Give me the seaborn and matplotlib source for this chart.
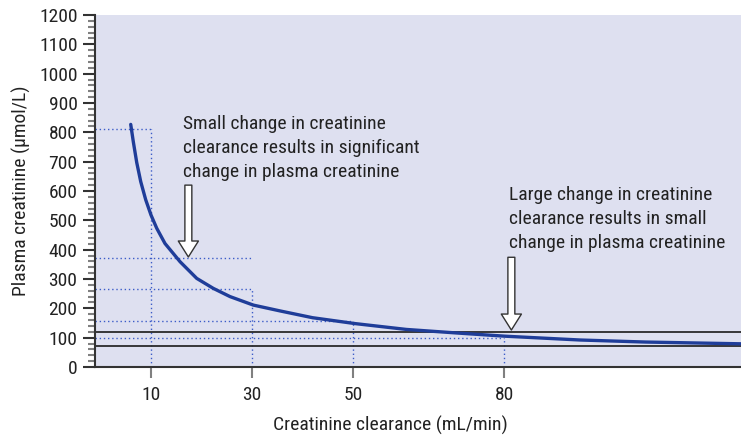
import numpy as np
import pandas as pd
import matplotlib
matplotlib.use("Agg")
import matplotlib.pyplot as plt
from matplotlib import font_manager
import seaborn as sns

# curve: creatinine clearance vs plasma creatinine
clearance = [5.98, 6.49, 7.17, 7.96, 8.95, 10.0, 11.13, 12.77, 15.75, 19.06,
             22.34, 25.65, 30.27, 35.6, 42.0, 50.4, 60.6, 70.5, 80.1, 95.0,
             108.0, 126.9]
creatinine = [827, 768, 697, 632, 570, 518, 473, 421, 359, 302,
              268, 240, 211, 191, 168, 148, 128, 116, 105, 92,
              85, 79]

# dotted guide lines: horizontal (y, up to x) and vertical (x, up to y)
h_guide_y = [810, 370, 267, 157, 100]
h_guide_x = [10, 30, 30, 50, 80]
v_guide_x = [10, 30, 50, 80]
v_guide_y = [810, 267, 157, 100]

# normal range lines
normal_range = [118, 70]

x_ticks = [10, 30, 50, 80]

note_small = "Small change in creatinine\nclearance results in significant\nchange in plasma creatinine"
note_large = "Large change in creatinine\nclearance results in small\nchange in plasma creatinine"

sns.set_style("ticks")

# the reference uses a condensed grotesque; take one if it is there
have = {f.name for f in font_manager.fontManager.ttflist}
narrow = next((n for n in ['Liberation Sans Narrow', 'Arial Narrow', 'Roboto Condensed',
                           'Archivo Narrow', 'PT Sans Narrow'] if n in have), None)
if narrow:
    plt.rcParams['font.family'] = [narrow, 'DejaVu Sans']
    fs = 14
else:
    plt.rcParams['font.family'] = ['Liberation Sans', 'DejaVu Sans']
    fs = 12

fig = plt.figure(figsize=(7.41, 4.36), dpi=100)
ax = fig.add_axes([0.1282, 0.1583, 0.8718, 0.8073])
ax.set_facecolor('#dee0f0')

xmin, xmax = -1.1, 126.9
ax.set_xlim(xmin, xmax)
ax.set_ylim(0, 1200)

# dotted guides
ax.hlines(h_guide_y, xmin, h_guide_x, colors='#3c5cc8', linestyles=(0, (1, 2)), lw=1)
ax.vlines(v_guide_x, 0, v_guide_y, colors='#3c5cc8', linestyles=(0, (1, 2)), lw=1)

for y in normal_range:
    ax.axhline(y, color='#2a2a2a', lw=1.3)

df = pd.DataFrame({'clearance': clearance, 'creatinine': creatinine})
sns.lineplot(data=df, x='clearance', y='creatinine', ax=ax, color='#1f3d99',
             lw=2.4, sort=False, estimator=None)

# hollow arrows
arrow = dict(arrowstyle='simple,head_length=1.15,head_width=1.45,tail_width=0.5',
             fc='white', ec='#333333', lw=1, shrinkA=0, shrinkB=0, mutation_scale=10)
ax.annotate('', xy=(17.4, 375), xytext=(17.4, 620), arrowprops=arrow)
ax.annotate('', xy=(81.4, 126), xytext=(81.4, 374), arrowprops=arrow)

ax.text(16.4, 860, note_small, fontsize=fs, color='#222222', va='top', ha='left',
        linespacing=1.42)
ax.text(80.9, 617, note_large, fontsize=fs, color='#222222', va='top', ha='left',
        linespacing=1.42)

ax.set_xticks(x_ticks)
ax.set_yticks(np.arange(0, 1201, 100))
ax.set_yticks(np.arange(0, 1201, 20), minor=True)
ax.tick_params(axis='y', which='major', length=8.6, width=1.5, color='#333333',
               pad=4, labelsize=fs, labelcolor='#222222')
ax.tick_params(axis='y', which='minor', length=5, width=1.5, color='#808080')
ax.tick_params(axis='x', which='major', length=8, width=1.5, color='#808080',
               pad=6, labelsize=fs, labelcolor='#222222')

for s in ['top', 'right']:
    ax.spines[s].set_visible(False)
for s in ['left', 'bottom']:
    ax.spines[s].set_color('#333333')
    ax.spines[s].set_linewidth(1.5)

ax.set_xlabel('Creatinine clearance (mL/min)', fontsize=fs, color='#222222')
ax.xaxis.set_label_coords(0.457, -0.138)
ax.set_ylabel('Plasma creatinine (µmol/L)', fontsize=fs, color='#222222',
              labelpad=6)

fig.savefig('out.png', dpi=100)
